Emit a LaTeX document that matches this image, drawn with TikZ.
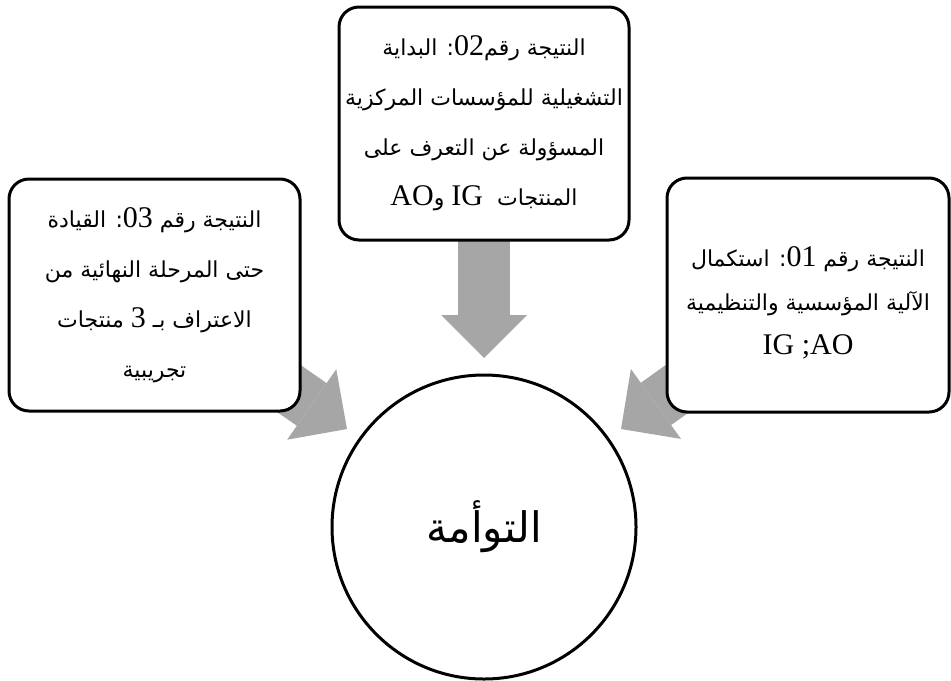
\documentclass[tikz,border=0pt]{standalone}
\usepackage{fontspec}
\setmainfont{Liberation Serif}
\newfontfamily\arabicfont[Script=Arabic]{DejaVu Sans}
\TeXXeTstate=1
\usetikzlibrary{arrows.meta,backgrounds}

\definecolor{arrowgray}{HTML}{A6A6A6}

% one right-to-left Arabic line, and a left-to-right Latin run inside it
\newcommand\myar[1]{{\arabicfont\beginR #1\endR}}
\newcommand\mylat[1]{{\rmfamily\fontsize{15pt}{\baselineskip}\selectfont\beginL #1\endL}}

\tikzset{
  resultbox/.style={draw, line width=1.5pt, rounded corners=10pt, fill=white,
    align=center, inner sep=0pt},
  blockarrow/.style={draw=arrowgray, line width=26pt,
    -{Triangle[width=43pt, length=21.5pt, line width=0pt]}},
}

\begin{document}
\begin{tikzpicture}[x=0.5pt, y=-0.5pt]
\useasboundingbox (0,0) rectangle (951,680);

% result 03 (left)
\node[resultbox, minimum width=145.5pt, minimum height=116pt,
      font={\fontsize{11pt}{25pt}\selectfont}] (boxL) at (154.5,295)
  {\myar{النتيجة رقم \mylat{03}: القيادة}\\
   \myar{حتى المرحلة النهائية من}\\
   \myar{الاعتراف بـ \mylat{3} منتجات}\\
   \myar{تجريبية}};

% result 02 (top)
\node[resultbox, minimum width=145pt, minimum height=116.5pt,
      font={\fontsize{11pt}{25pt}\selectfont}] (boxT) at (484,123.5)
  {\myar{النتيجة رقم\mylat{02}: البداية}\\
   \myar{التشغيلية للمؤسسات المركزية}\\
   \myar{المسؤولة عن التعرف على}\\
   \myar{المنتجات\ \ \mylat{IG} و\mylat{AO}}};

% result 01 (right); the strut sets the block a little lower
\node[resultbox, minimum width=141pt, minimum height=117pt,
      font={\fontsize{11pt}{22pt}\selectfont}] (boxR) at (808,295)
  {\rule{0pt}{18pt}\myar{النتيجة رقم \mylat{01}: استكمال}\\
   \myar{الآلية المؤسسية والتنظيمية}\\
   \mylat{IG ;AO}};

% twinning
\node[circle, draw, line width=1.5pt, fill=white, minimum size=152pt,
      inner sep=0pt] (twin) at (484,527)
  {{\arabicfont\fontsize{21pt}{21pt}\selectfont\beginR التوأمة\endR}};

% arrow tips just outside the circle
\coordinate (tipT) at (484,358);
\coordinate (tipL) at (347,429);
\coordinate (tipR) at (621,429);

\begin{scope}[on background layer]
  \draw[blockarrow] (boxT.center) -- (tipT);
  \draw[blockarrow] (boxL.center) -- (tipL);
  \draw[blockarrow] (boxR.center) -- (tipR);
\end{scope}
\end{tikzpicture}
\end{document}
